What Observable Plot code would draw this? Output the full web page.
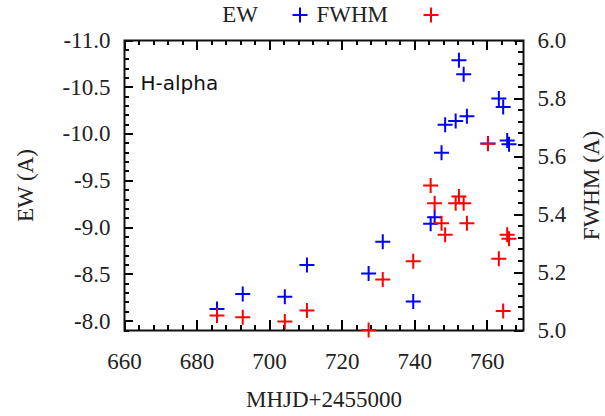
<!DOCTYPE html>
<html>
<head>
<meta charset="utf-8">
<script src="https://cdn.jsdelivr.net/npm/d3@7"></script>
<script src="https://cdn.jsdelivr.net/npm/@observablehq/plot@0.6"></script>
<style>
  body { margin: 0; background: #fff; }
  #wrap { position: relative; width: 605px; height: 416px; }
  #legend { position: absolute; left: 0; top: 0; width: 605px; height: 32px; font-family: "Liberation Serif", serif; font-size: 23px; color: #222; }
  #legend .lab { position: absolute; top: 0; line-height: 30px; white-space: nowrap; }
  #legend svg { position: absolute; top: 7px; }
  #chart svg { display: block; }
</style>
</head>
<body>
<div id="wrap">
<div id="chart"></div>
<div id="legend"></div>
</div>
<script>
// ---- data ----
const mhjd = [685.5, 692.6, 704.2, 710.3, 727.3, 731.2, 739.6, 744.4, 745.5, 747.4,
              748.4, 751.3, 752.2, 753.5, 754.4, 760.2, 763.2, 764.4, 765.5, 766.0];
const ew   = [-8.13, -8.29, -8.26, -8.60, -8.51, -8.85, -8.21, -9.04, -9.11, -9.80,
              -10.10, -10.14, -10.79, -10.64, -10.19, -9.90, -10.38, -10.29, -9.93, -9.89];
const fwhm = [5.052, 5.046, 5.031, 5.069, 5.002, 5.176, 5.239, 5.500, 5.439, 5.370,
              5.330, 5.439, 5.462, 5.439, 5.370, 5.644, 5.247, 5.067, 5.330, 5.316];
const seriesNames = ["EW", "FWHM"];
const seriesColors = ["#0000ff", "#ff0000"];
const xTicks = [660, 680, 700, 720, 740, 760];
const ewTicks = [-11.0, -10.5, -10.0, -9.5, -9.0, -8.5, -8.0];
const fwhmTicks = [5.0, 5.2, 5.4, 5.6, 5.8, 6.0];
const xDomain = [660, 770];
const ewDomain = [-7.9, -11];     // bottom -> top
const fwhmDomain = [5.0, 6.0];    // bottom -> top
const annotation = "H-alpha";

// ---- layout ----
const W = 605, H = 416, mL = 124, mR = 82, mT = 40, mB = 86;
const plotW = W - mL - mR, plotH = H - mT - mB;

// ---- helpers ----
const fToEw = d3.scaleLinear(fwhmDomain, ewDomain);
const xMinor = d3.range(xDomain[0], xDomain[1] + 1e-9, 4).filter(v => !xTicks.includes(v));
const ewMinor = d3.range(0, 32).map(i => +(-11 + i * 0.1).toFixed(2)).filter(v => !ewTicks.includes(v));
const fwhmMinor = d3.range(0, 26).map(i => +(5 + i * 0.04).toFixed(2)).filter(v => !fwhmTicks.includes(v));
const rows = mhjd.map((d, i) => ({mhjd: d, ew: ew[i], fwhm: fwhm[i]}));

const thinPlus = {
  draw(ctx, size) {
    const r = Math.sqrt(size / Math.PI);
    ctx.moveTo(-r, 0); ctx.lineTo(r, 0);
    ctx.moveTo(0, -r); ctx.lineTo(0, r);
  }
};

const ink = "#000";
const tk = {stroke: ink, strokeWidth: 2, shapeRendering: "crispEdges"};
function inTicks(values, side, len, key) {
  if (side === "bottom") return Plot.ruleX(values, {x: key, insetTop: plotH - len, ...tk});
  if (side === "top") return Plot.ruleX(values, {x: key, insetBottom: plotH - len, ...tk});
  if (side === "left") return Plot.ruleY(values, {y: key, insetRight: plotW - len, ...tk});
  return Plot.ruleY(values, {y: key, insetLeft: plotW - len, ...tk});
}

const chart = Plot.plot({
  width: W,
  height: H,
  marginLeft: mL,
  marginRight: mR,
  marginTop: mT,
  marginBottom: mB,
  x: {domain: xDomain},
  y: {domain: ewDomain},
  style: {fontFamily: "Liberation Serif, serif", fontSize: "23px"},
  marks: [
    // inward ticks
    inTicks(xTicks, "bottom", 10, d => d),
    inTicks(xMinor, "bottom", 5, d => d),
    inTicks(xTicks, "top", 10, d => d),
    inTicks(xMinor, "top", 5, d => d),
    inTicks(ewTicks, "left", 9, d => d),
    inTicks(ewMinor, "left", 5, d => d),
    inTicks(fwhmTicks, "right", 9, d => fToEw(d)),
    inTicks(fwhmMinor, "right", 5, d => fToEw(d)),
    Plot.frame({stroke: "#111", strokeWidth: 2}),
    // axis labels
    Plot.axisX(xTicks, {anchor: "bottom", tickSize: 0, tickPadding: 22, fill: "#222", label: "MHJD+2455000", labelAnchor: "center", labelOffset: 76, labelArrow: "none"}),
    Plot.axisY(ewTicks, {anchor: "left", tickSize: 0, tickPadding: 14, fill: "#222", tickFormat: d => d.toFixed(1), label: "EW (A)", labelAnchor: "center", labelOffset: 108, labelArrow: "none"}),
    Plot.axisY(fwhmTicks.map(fToEw), {anchor: "right", tickSize: 0, tickPadding: 14, fill: "#222", tickFormat: d => fToEw.invert(d).toFixed(1), label: "FWHM (A)", labelAnchor: "center", labelOffset: 75, labelArrow: "none"}),
    Plot.text([annotation], {frameAnchor: "top-left", dx: 16, dy: 49, textAnchor: "start", lineAnchor: "bottom", fontFamily: "DejaVu Sans, sans-serif", fontSize: 20, fill: "#111"}),
    // data
    Plot.dot(rows, {x: "mhjd", y: "ew", symbol: thinPlus, r: 7.5, stroke: seriesColors[0], fill: "none", strokeWidth: 2}),
    Plot.dot(rows, {x: "mhjd", y: d => fToEw(d.fwhm), symbol: thinPlus, r: 7.5, stroke: seriesColors[1], fill: "none", strokeWidth: 2})
  ]
});
document.getElementById("chart").appendChild(chart);

// ---- legend ----
const legend = document.getElementById("legend");
const legendLayout = [{right: 347, plus: 292}, {right: 217, plus: 423}];
seriesNames.forEach((name, i) => {
  const s = document.createElement("span");
  s.className = "lab";
  s.style.right = legendLayout[i].right + "px";
  s.textContent = name;
  legend.appendChild(s);
  const svgNS = "http://www.w3.org/2000/svg";
  const sv = document.createElementNS(svgNS, "svg");
  sv.setAttribute("width", 16); sv.setAttribute("height", 16);
  sv.style.left = legendLayout[i].plus + "px";
  const p = document.createElementNS(svgNS, "path");
  p.setAttribute("d", "M0.5,8H15.5M8,0.5V15.5");
  p.setAttribute("stroke", seriesColors[i]);
  p.setAttribute("stroke-width", 2);
  p.setAttribute("fill", "none");
  sv.appendChild(p);
  legend.appendChild(sv);
});
</script>
</body>
</html>
